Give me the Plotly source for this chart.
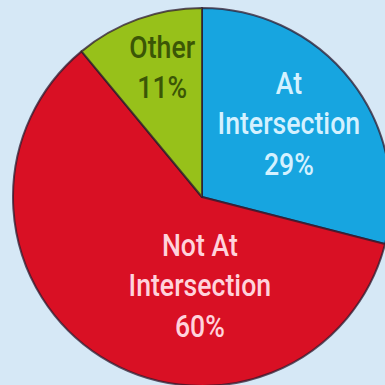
import plotly.graph_objects as go

# Crash location shares, in clockwise order from 12 o'clock
labels = ["At<br>Intersection", "Not At<br>Intersection", "Other"]
values = [29, 60, 11]
colors = ["#17a5e0", "#d91024", "#97c11a"]
text_colors = ["#d4f1ff", "#ffd3dc", "#3b5606"]

# The pie runs slightly past the right and bottom edges of the visible page
W, H = 391, 386
cx, cy, r = 202, 197, 189

fig = go.Figure(
    go.Pie(
        labels=labels,
        values=values,
        sort=False,
        direction="clockwise",
        rotation=0,
        marker=dict(colors=colors, line=dict(color="rgba(45,25,45,0.75)", width=2)),
        textinfo="none",
        hoverinfo="skip",
        showlegend=False,
        domain=dict(x=[(cx - r) / W, (cx + r) / W], y=[1 - (cy + r) / H, 1 - (cy - r) / H]),
    )
)

# Label centres in pixels from the top-left corner
label_pos = [(289, 124), (200, 286), (162, 68)]
for (x, y), lab, val, tc in zip(label_pos, labels, values, text_colors):
    fig.add_annotation(
        x=x / W, y=1 - y / H, xref="paper", yref="paper",
        xanchor="center", yanchor="middle",
        text=f"{lab}<br>{val}%",
        showarrow=False,
        font=dict(family="Roboto", size=31, color=tc, weight=500),
        align="center",
    )

fig.update_layout(
    width=W, height=H,
    margin=dict(l=0, r=0, t=0, b=0),
    paper_bgcolor="#d6e8f6",
    plot_bgcolor="#d6e8f6",
)

# Condense the slice labels horizontally, like a narrow typeface,
# and clip the page instead of showing scrollbars
condense = """
var s = document.createElement('style');
s.textContent = 'html,body{overflow:hidden;margin:0;}' +
  '.annotation-text{transform-box:fill-box;transform-origin:center;transform:scaleX(0.86);}';
document.head.appendChild(s);
"""

fig.write_html("out.html", post_script=condense)
